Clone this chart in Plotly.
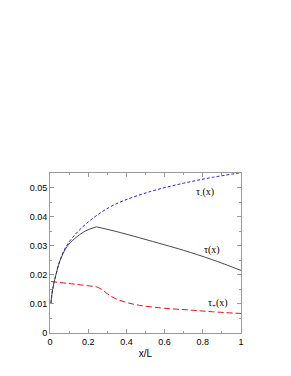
import plotly.graph_objects as go

# tau_minus(x) (blue dashed)
x_minus = [0.005, 0.01, 0.02, 0.031, 0.052, 0.087, 0.148, 0.236, 0.34, 0.524, 0.7, 0.85, 1.0]
y_minus = [0.0102, 0.0133, 0.0170, 0.0200, 0.0250, 0.0300, 0.0350, 0.0400, 0.0442, 0.0486, 0.0515, 0.0535, 0.0551]

# tau(x) (black solid): rising part up to the peak, then falling part
x_tau_a = [0.005, 0.01, 0.02, 0.031, 0.052, 0.09, 0.13, 0.183, 0.243]
y_tau_a = [0.0102, 0.0133, 0.0170, 0.0200, 0.0248, 0.0298, 0.0325, 0.0350, 0.0365]
x_tau_b = [0.243, 0.34, 0.47, 0.6, 0.7, 0.85, 1.0]
y_tau_b = [0.0365, 0.0350, 0.0327, 0.0303, 0.0284, 0.0252, 0.0215]

# tau_plus(x) (red dashed): before and after the kink
x_plus_a = [0.005, 0.1, 0.243]
y_plus_a = [0.0177, 0.0170, 0.0159]
x_plus_b = [0.243, 0.27, 0.3, 0.34, 0.4, 0.47, 0.6, 0.733, 0.85, 1.0]
y_plus_b = [0.0159, 0.0150, 0.0135, 0.0119, 0.0105, 0.0095, 0.0085, 0.0079, 0.0073, 0.0067]

labels = ["τ<sub>-</sub>(x)", "τ(x)", "τ<sub>+</sub>(x)"]
label_x = [0.81, 0.85, 0.88]
label_y = [0.0483, 0.0285, 0.0103]

fig = go.Figure()
blue = dict(color="#2222ee", width=1, dash="3px,2px")
black = dict(color="#333333", width=0.9)
red = dict(color="#ee1111", width=1, dash="6px,3px")
fig.add_trace(go.Scatter(x=x_minus, y=y_minus, mode="lines", line=blue, line_shape="spline"))
fig.add_trace(go.Scatter(x=x_tau_a, y=y_tau_a, mode="lines", line=black, line_shape="spline"))
fig.add_trace(go.Scatter(x=x_tau_b, y=y_tau_b, mode="lines", line=black, line_shape="spline"))
fig.add_trace(go.Scatter(x=x_plus_a, y=y_plus_a, mode="lines", line=red, line_shape="spline"))
fig.add_trace(go.Scatter(x=x_plus_b, y=y_plus_b, mode="lines", line=red, line_shape="spline"))

for t, lx, ly in zip(labels, label_x, label_y):
    fig.add_annotation(x=lx, y=ly, text=t, showarrow=False, xanchor="center", yanchor="middle",
                       font=dict(family="Liberation Serif", size=10, color="black"))

axis_common = dict(showgrid=False, zeroline=False, showline=True, linecolor="#999999", linewidth=1,
                   mirror="ticks", ticks="inside", ticklen=4, tickcolor="#999999",
                   tickfont=dict(family="Liberation Sans", size=9, color="black"))
fig.update_xaxes(range=[0, 1], dtick=0.2, title=dict(text="x/L", font=dict(family="Liberation Sans", size=10, color="black"), standoff=4),
                 minor=dict(ticks="inside", ticklen=2, dtick=0.1, tickcolor="#999999"), **axis_common)
fig.update_yaxes(range=[0, 0.055], dtick=0.01,
                 minor=dict(ticks="inside", ticklen=2, dtick=0.005, tickcolor="#999999"), **axis_common)

fig.update_layout(width=283, height=368, showlegend=False, plot_bgcolor="white", paper_bgcolor="white",
                  margin=dict(l=42, r=50, t=165, b=43))
fig.write_html("out.html")
